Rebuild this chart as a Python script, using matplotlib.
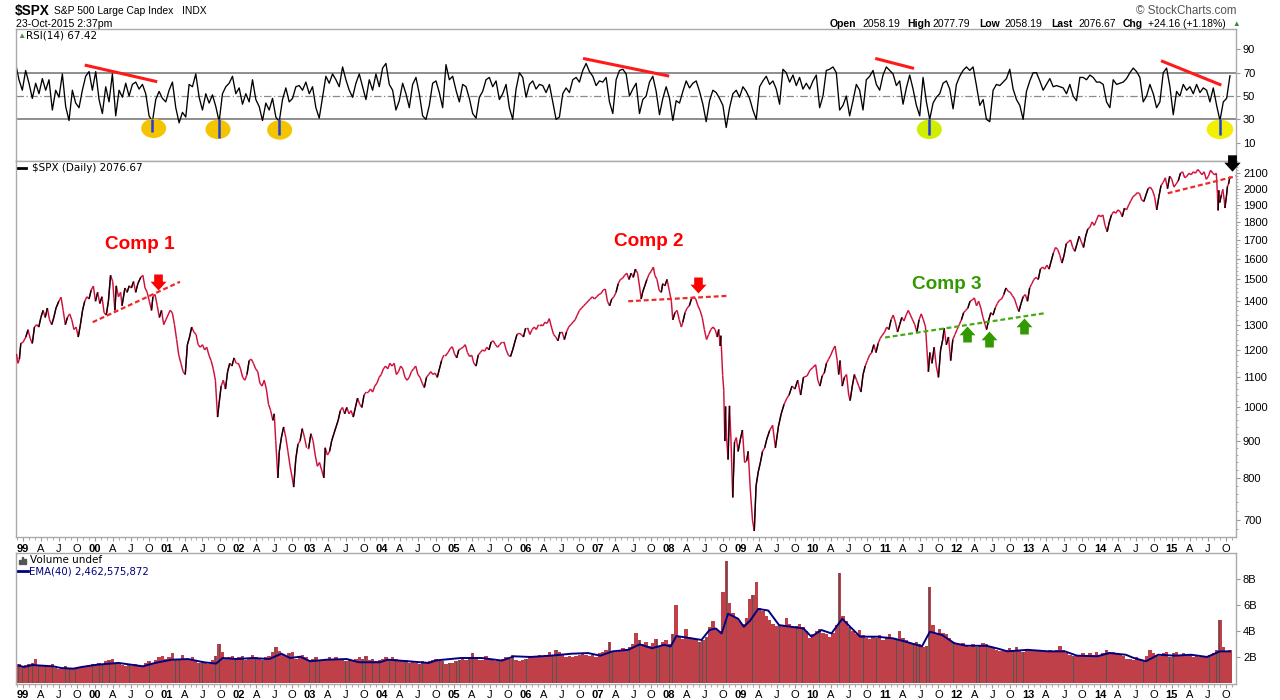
import numpy as np
import matplotlib
matplotlib.use("Agg")
import matplotlib.pyplot as plt
from matplotlib.collections import LineCollection
from matplotlib.path import Path
from matplotlib.patches import Ellipse, Rectangle
from matplotlib.lines import Line2D
import matplotlib.ticker as mticker

# ---------------------------------------------------------------- data
# $SPX daily close, sampled (decimal year, price)
spx_1998 = [(1998.91, 1185), (1998.93, 1150), (1998.95, 1165), (1998.97, 1225)]
spx_1999 = [(1999.00, 1229), (1999.04, 1250), (1999.07, 1279), (1999.10, 1245), (1999.13, 1225), (1999.16, 1290),
            (1999.19, 1300), (1999.22, 1290), (1999.25, 1330), (1999.28, 1360), (1999.31, 1330), (1999.34, 1370),
            (1999.37, 1320), (1999.40, 1300), (1999.43, 1330), (1999.46, 1370), (1999.50, 1400), (1999.53, 1418),
            (1999.56, 1360), (1999.59, 1300), (1999.62, 1330), (1999.65, 1345), (1999.68, 1320), (1999.71, 1280),
            (1999.74, 1290), (1999.77, 1250), (1999.80, 1300), (1999.83, 1360), (1999.86, 1400), (1999.89, 1420),
            (1999.92, 1410), (1999.95, 1450), (1999.98, 1469)]
spx_2000 = [(2000.01, 1400), (2000.04, 1440), (2000.07, 1390), (2000.10, 1420), (2000.13, 1350), (2000.16, 1340),
            (2000.19, 1400), (2000.22, 1520), (2000.25, 1490), (2000.28, 1360), (2000.30, 1470), (2000.33, 1420),
            (2000.36, 1440), (2000.38, 1380), (2000.42, 1460), (2000.45, 1440), (2000.48, 1470), (2000.51, 1460),
            (2000.54, 1490), (2000.57, 1440), (2000.60, 1480), (2000.64, 1510), (2000.67, 1520), (2000.70, 1460),
            (2000.73, 1440), (2000.76, 1400), (2000.79, 1360), (2000.81, 1420), (2000.84, 1430), (2000.87, 1380),
            (2000.90, 1330), (2000.93, 1360), (2000.96, 1300), (2000.99, 1320)]
spx_2001 = [(2001.02, 1340), (2001.05, 1360), (2001.08, 1350), (2001.11, 1300), (2001.14, 1240), (2001.17, 1180),
            (2001.20, 1150), (2001.23, 1120), (2001.26, 1110), (2001.29, 1220), (2001.32, 1250), (2001.35, 1290),
            (2001.38, 1270), (2001.41, 1260), (2001.44, 1220), (2001.47, 1210), (2001.50, 1220), (2001.53, 1200),
            (2001.56, 1210), (2001.59, 1180), (2001.62, 1160), (2001.65, 1130), (2001.68, 1090), (2001.71, 970),
            (2001.73, 1010), (2001.76, 1070), (2001.79, 1090), (2001.82, 1060), (2001.85, 1120), (2001.88, 1150),
            (2001.91, 1140), (2001.94, 1170), (2001.97, 1150)]
spx_2002 = [(2002.00, 1150), (2002.03, 1130), (2002.06, 1100), (2002.09, 1090), (2002.12, 1110), (2002.15, 1160),
            (2002.18, 1165), (2002.21, 1150), (2002.24, 1130), (2002.27, 1120), (2002.30, 1080), (2002.33, 1070),
            (2002.36, 1090), (2002.39, 1060), (2002.42, 1010), (2002.45, 990), (2002.48, 960), (2002.50, 980),
            (2002.52, 900), (2002.55, 800), (2002.57, 870), (2002.60, 910), (2002.63, 940), (2002.66, 910),
            (2002.69, 870), (2002.72, 830), (2002.75, 800), (2002.77, 777), (2002.80, 850), (2002.83, 890),
            (2002.86, 900), (2002.89, 935), (2002.92, 910), (2002.95, 880), (2002.98, 880)]
spx_2003 = [(2003.01, 920), (2003.04, 900), (2003.07, 860), (2003.10, 830), (2003.13, 840), (2003.16, 820),
            (2003.19, 800), (2003.21, 880), (2003.24, 860), (2003.27, 870), (2003.30, 900), (2003.33, 920),
            (2003.36, 940), (2003.39, 960), (2003.42, 990), (2003.45, 1000), (2003.48, 980), (2003.51, 1000),
            (2003.54, 980), (2003.57, 990), (2003.60, 970), (2003.63, 1000), (2003.66, 1030), (2003.69, 1010),
            (2003.72, 1000), (2003.75, 1040), (2003.78, 1050), (2003.81, 1050), (2003.84, 1060), (2003.87, 1050),
            (2003.90, 1070), (2003.93, 1080), (2003.96, 1100), (2003.99, 1110)]
spx_2004 = [(2004.02, 1130), (2004.05, 1140), (2004.08, 1130), (2004.11, 1150), (2004.14, 1140), (2004.17, 1150),
            (2004.20, 1110), (2004.23, 1120), (2004.26, 1140), (2004.29, 1130), (2004.32, 1100), (2004.35, 1090),
            (2004.38, 1100), (2004.41, 1120), (2004.44, 1130), (2004.47, 1140), (2004.50, 1110), (2004.53, 1100),
            (2004.56, 1080), (2004.59, 1065), (2004.62, 1100), (2004.65, 1110), (2004.68, 1120), (2004.71, 1110),
            (2004.74, 1115), (2004.77, 1100), (2004.80, 1130), (2004.83, 1160), (2004.86, 1180), (2004.89, 1180),
            (2004.92, 1190), (2004.95, 1205), (2004.98, 1212)]
spx_2005 = [(2005.01, 1185), (2005.04, 1170), (2005.07, 1200), (2005.10, 1205), (2005.13, 1210), (2005.16, 1220),
            (2005.19, 1190), (2005.22, 1175), (2005.25, 1180), (2005.28, 1150), (2005.31, 1140), (2005.34, 1180),
            (2005.37, 1190), (2005.40, 1200), (2005.43, 1195), (2005.46, 1210), (2005.49, 1200), (2005.52, 1230),
            (2005.55, 1235), (2005.58, 1220), (2005.61, 1210), (2005.64, 1220), (2005.67, 1230), (2005.70, 1230),
            (2005.73, 1200), (2005.76, 1180), (2005.79, 1175), (2005.82, 1200), (2005.85, 1230), (2005.88, 1260),
            (2005.91, 1265), (2005.94, 1260), (2005.97, 1250)]
spx_2006 = [(2006.00, 1285), (2006.03, 1285), (2006.06, 1260), (2006.09, 1280), (2006.12, 1290), (2006.15, 1280),
            (2006.18, 1300), (2006.21, 1300), (2006.24, 1295), (2006.27, 1310), (2006.30, 1305), (2006.33, 1325),
            (2006.36, 1290), (2006.39, 1260), (2006.42, 1250), (2006.45, 1235), (2006.48, 1270), (2006.51, 1270),
            (2006.54, 1240), (2006.57, 1270), (2006.60, 1290), (2006.63, 1300), (2006.66, 1310), (2006.69, 1320),
            (2006.72, 1340), (2006.75, 1360), (2006.78, 1370), (2006.81, 1380), (2006.84, 1390), (2006.87, 1400),
            (2006.90, 1410), (2006.93, 1420), (2006.96, 1410), (2006.99, 1420)]
spx_2007 = [(2007.02, 1430), (2007.05, 1435), (2007.08, 1450), (2007.11, 1455), (2007.14, 1400), (2007.17, 1380),
            (2007.20, 1410), (2007.23, 1420), (2007.26, 1440), (2007.29, 1480), (2007.32, 1500), (2007.35, 1505),
            (2007.38, 1520), (2007.41, 1530), (2007.44, 1500), (2007.47, 1530), (2007.50, 1510), (2007.53, 1550),
            (2007.56, 1530), (2007.59, 1460), (2007.61, 1410), (2007.63, 1440), (2007.66, 1470), (2007.69, 1500),
            (2007.72, 1525), (2007.75, 1540), (2007.78, 1560), (2007.80, 1520), (2007.83, 1500), (2007.86, 1450),
            (2007.89, 1440), (2007.91, 1480), (2007.94, 1470), (2007.97, 1500)]
spx_2008 = [(2008.00, 1450), (2008.03, 1400), (2008.05, 1320), (2008.08, 1350), (2008.11, 1360), (2008.14, 1320),
            (2008.17, 1290), (2008.19, 1310), (2008.22, 1350), (2008.25, 1370), (2008.28, 1380), (2008.31, 1410),
            (2008.34, 1420), (2008.37, 1410), (2008.40, 1380), (2008.43, 1360), (2008.46, 1330), (2008.49, 1280),
            (2008.52, 1240), (2008.55, 1260), (2008.58, 1280), (2008.61, 1290), (2008.64, 1280), (2008.67, 1250),
            (2008.69, 1280), (2008.71, 1215), (2008.72, 1255), (2008.745, 1106), (2008.76, 1056), (2008.775, 899),
            (2008.785, 1003), (2008.80, 908), (2008.82, 848), (2008.84, 1005), (2008.86, 905), (2008.885, 752),
            (2008.91, 896), (2008.935, 909), (2008.96, 870), (2008.99, 903)]
spx_2009 = [(2009.02, 931), (2009.05, 840), (2009.08, 845), (2009.10, 870), (2009.13, 770), (2009.16, 700),
            (2009.185, 676), (2009.21, 780), (2009.24, 815), (2009.27, 840), (2009.30, 870), (2009.33, 880),
            (2009.36, 905), (2009.40, 930), (2009.44, 945), (2009.48, 880), (2009.52, 940), (2009.56, 980),
            (2009.60, 1010), (2009.64, 1030), (2009.67, 1040), (2009.71, 1070), (2009.75, 1060), (2009.79, 1090),
            (2009.83, 1040), (2009.87, 1100), (2009.92, 1105), (2009.96, 1125)]
spx_2010 = [(2010.00, 1135), (2010.04, 1145), (2010.07, 1090), (2010.10, 1070), (2010.13, 1105), (2010.16, 1115),
            (2010.19, 1150), (2010.22, 1165), (2010.25, 1180), (2010.28, 1200), (2010.31, 1215), (2010.34, 1160),
            (2010.36, 1110), (2010.38, 1160), (2010.41, 1070), (2010.44, 1100), (2010.47, 1110), (2010.50, 1040),
            (2010.52, 1022), (2010.55, 1070), (2010.58, 1110), (2010.61, 1090), (2010.64, 1070), (2010.67, 1050),
            (2010.70, 1110), (2010.73, 1140), (2010.76, 1160), (2010.79, 1180), (2010.82, 1190), (2010.85, 1220),
            (2010.88, 1190), (2010.91, 1225), (2010.94, 1245), (2010.97, 1258)]
spx_2011 = [(2011.00, 1270), (2011.03, 1290), (2011.06, 1280), (2011.09, 1320), (2011.12, 1340), (2011.15, 1310),
            (2011.18, 1270), (2011.21, 1300), (2011.24, 1330), (2011.27, 1315), (2011.30, 1340), (2011.33, 1360),
            (2011.36, 1340), (2011.39, 1320), (2011.42, 1300), (2011.45, 1270), (2011.48, 1320), (2011.51, 1345),
            (2011.54, 1320), (2011.57, 1290), (2011.59, 1200), (2011.61, 1120), (2011.63, 1190), (2011.66, 1150),
            (2011.69, 1210), (2011.72, 1140), (2011.75, 1100), (2011.78, 1200), (2011.81, 1240), (2011.83, 1285),
            (2011.86, 1220), (2011.89, 1250), (2011.92, 1160), (2011.95, 1240), (2011.98, 1260)]
spx_2012 = [(2012.01, 1280), (2012.04, 1300), (2012.07, 1320), (2012.10, 1350), (2012.13, 1360), (2012.16, 1370),
            (2012.19, 1400), (2012.22, 1405), (2012.25, 1415), (2012.28, 1380), (2012.31, 1400), (2012.34, 1370),
            (2012.37, 1330), (2012.40, 1300), (2012.42, 1280), (2012.45, 1320), (2012.48, 1350), (2012.51, 1340),
            (2012.54, 1370), (2012.57, 1390), (2012.60, 1405), (2012.63, 1410), (2012.66, 1430), (2012.69, 1460),
            (2012.72, 1445), (2012.75, 1440), (2012.78, 1425), (2012.81, 1410), (2012.84, 1380), (2012.87, 1355),
            (2012.90, 1390), (2012.93, 1420), (2012.96, 1430), (2012.99, 1400)]
spx_2013 = [(2013.02, 1460), (2013.05, 1480), (2013.08, 1500), (2013.11, 1510), (2013.14, 1500), (2013.17, 1550),
            (2013.20, 1560), (2013.23, 1550), (2013.26, 1570), (2013.29, 1550), (2013.32, 1590), (2013.35, 1630),
            (2013.38, 1660), (2013.41, 1650), (2013.44, 1620), (2013.47, 1580), (2013.50, 1620), (2013.53, 1680),
            (2013.56, 1690), (2013.59, 1700), (2013.62, 1660), (2013.65, 1640), (2013.68, 1680), (2013.71, 1720),
            (2013.74, 1690), (2013.77, 1660), (2013.80, 1720), (2013.83, 1760), (2013.86, 1770), (2013.89, 1800),
            (2013.92, 1780), (2013.95, 1810), (2013.98, 1840)]
spx_2014 = [(2014.01, 1830), (2014.04, 1840), (2014.07, 1780), (2014.10, 1745), (2014.13, 1800), (2014.16, 1840),
            (2014.19, 1860), (2014.22, 1850), (2014.25, 1870), (2014.28, 1860), (2014.31, 1830), (2014.34, 1880),
            (2014.37, 1870), (2014.40, 1900), (2014.43, 1925), (2014.46, 1950), (2014.49, 1960), (2014.52, 1975),
            (2014.55, 1970), (2014.58, 1930), (2014.61, 1920), (2014.64, 1960), (2014.67, 2000), (2014.70, 2010),
            (2014.73, 1990), (2014.76, 1950), (2014.79, 1870), (2014.82, 1950), (2014.85, 2020), (2014.88, 2040),
            (2014.91, 2070), (2014.94, 2000), (2014.97, 2080)]
spx_2015 = [(2015.00, 2060), (2015.03, 2010), (2015.06, 2030), (2015.09, 2050), (2015.12, 2100), (2015.15, 2110),
            (2015.18, 2070), (2015.21, 2080), (2015.24, 2100), (2015.27, 2090), (2015.30, 2110), (2015.33, 2100),
            (2015.36, 2125), (2015.39, 2110), (2015.42, 2090), (2015.45, 2110), (2015.48, 2060), (2015.51, 2080),
            (2015.54, 2120), (2015.57, 2100), (2015.60, 2090), (2015.62, 2100), (2015.635, 1970), (2015.645, 1867),
            (2015.655, 1989), (2015.668, 1914), (2015.69, 1960), (2015.71, 1996), (2015.73, 1930), (2015.74, 1881),
            (2015.76, 1950), (2015.775, 2014), (2015.79, 2030), (2015.81, 2077)]

# RSI(14) readings, evenly spaced from START to END
SERIES_START, SERIES_END = 1998.898, 2015.81
rsi_part1 = [78, 64, 55, 72, 61, 48, 61, 52, 65, 55, 64, 38, 55, 49, 69, 41, 29, 55, 44, 40,
             55, 67, 71, 55, 71, 47, 35, 58, 45, 69, 33, 55, 49, 61, 50, 60, 62, 56, 60, 52,
             33, 28, 47, 54, 48, 45, 55, 62, 40, 27, 36, 32, 60, 58, 69, 49, 38, 52, 44, 51,
             41, 28, 52, 58, 61, 67, 52, 57, 43, 52, 45, 64, 47, 41, 29, 44, 38, 48, 32, 28,
             47, 57, 45, 48, 58, 59, 55, 62, 52, 58, 40, 31, 49, 67, 61, 69, 64, 58, 75, 64,
             55, 49, 61, 69, 58, 47, 64, 55, 69, 58, 74, 78, 60, 55, 38, 46, 61, 52, 40, 60,
             66, 52, 33]
rsi_part2 = [30, 42, 61, 63, 53, 40, 77, 64, 67, 55, 45, 60, 58, 48, 35, 31, 49, 54, 64, 66,
             58, 63, 47, 52, 60, 40, 30, 56, 70, 66, 49, 60, 63, 56, 60, 59, 53, 60, 45, 30,
             32, 52, 57, 53, 64, 66, 62, 72, 78, 71, 67, 59, 63, 62, 66, 45, 35, 64, 72, 73,
             69, 50, 56, 61, 35, 47, 50, 62, 67, 54, 34, 48, 58, 48, 29, 46, 44, 54, 63, 57,
             61, 63, 54, 43, 28, 46, 55, 53, 48, 42, 23, 40, 52, 55, 49, 58, 54, 48, 38, 30,
             58, 63, 67, 60, 63, 56, 43, 73, 70, 62, 68, 59, 66, 56, 61, 56, 63, 68, 40, 50,
             72]
rsi_part3 = [73, 75, 70, 38, 42, 50, 33, 46, 60, 55, 38, 64, 67, 72, 60, 55, 68, 75, 72, 69,
             59, 63, 43, 57, 68, 56, 42, 33, 66, 45, 30, 44, 49, 52, 61, 63, 56, 39, 60, 67,
             72, 75, 72, 75, 59, 42, 47, 30, 28, 55, 60, 59, 62, 65, 73, 56, 47, 42, 30, 54,
             63, 70, 70, 63, 55, 60, 65, 58, 59, 58, 57, 52, 60, 50, 46, 66, 66, 64, 68, 66,
             62, 62, 60, 45, 40, 64, 60, 61, 62, 65, 70, 74, 71, 66, 45, 50, 60, 52, 40, 45,
             70, 74, 58, 34, 54, 50, 60, 55, 58, 52, 60, 53, 57, 55, 45, 57, 42, 29, 45, 48,
             67.42]

# Volume (billions), same even spacing
vol_1998 = [1.4, 1.5, 1.3]
vol_1999 = [1.4, 1.5, 1.6, 1.9, 1.4, 1.3, 1.4, 1.3, 1.5, 1.2, 1.1, 1.2, 1.3, 1.2, 1.1, 1.2, 1.2, 1.3, 1.3, 1.4, 1.5]
vol_2000 = [1.5, 1.6, 1.5, 1.7, 1.8, 1.9, 1.6, 1.5, 1.4, 1.3, 1.4, 1.3, 1.5, 1.4, 1.3, 1.6, 1.7, 1.6, 1.8, 2.0, 2.1, 1.9]
vol_2001 = [2.0, 2.3, 1.9, 1.8, 2.2, 1.9, 1.8, 2.0, 1.7, 1.6, 1.7, 1.6, 1.5, 1.8, 2.1, 3.0, 2.4, 1.9, 2.0, 2.1, 1.9]
vol_2002 = [2.0, 2.1, 1.8, 1.9, 2.2, 2.0, 1.9, 1.8, 2.0, 2.1, 2.4, 2.8, 2.5, 2.2, 2.1, 2.3, 2.4, 1.9, 2.0, 2.2, 2.0, 1.8]
vol_2003 = [1.9, 2.0, 1.7, 1.8, 1.9, 2.0, 1.8, 2.0, 1.9, 1.8, 1.7, 1.9, 1.8, 1.9, 2.0, 1.9, 2.1, 1.8, 1.9, 1.7, 1.8]
vol_2004 = [1.9, 2.0, 1.8, 2.0, 1.9, 1.8, 1.7, 1.8, 1.6, 1.7, 1.6, 1.5, 1.7, 1.6, 1.7, 1.8, 1.9, 1.8, 1.7, 1.5, 1.6, 1.6]
vol_2005 = [1.7, 1.8, 1.9, 1.8, 2.0, 2.3, 1.9, 1.8, 1.8, 2.1, 1.9, 1.9, 1.7, 1.8, 1.9, 2.0, 1.9, 2.2, 1.8, 1.7, 1.8, 1.9]
vol_2006 = [2.0, 2.1, 2.0, 2.2, 2.1, 2.2, 2.4, 2.1, 2.6, 2.4, 2.2, 2.0, 2.1, 2.0, 2.1, 2.2, 2.3, 2.2, 2.1, 2.2, 2.0]
vol_2007 = [2.3, 2.4, 2.6, 3.2, 2.5, 2.4, 2.5, 2.7, 2.6, 2.8, 3.0, 3.9, 3.3, 3.0, 3.2, 2.9, 3.1, 3.4, 2.8, 3.2, 3.3, 3.0]
vol_2008 = [3.8, 6.0, 3.6, 3.4, 4.2, 3.6, 3.4, 3.3, 3.2, 3.3, 3.6, 4.3, 4.8, 4.2, 4.0, 7.0, 9.4, 6.2, 5.4, 5.0, 4.8]
vol_2009 = [4.6, 5.0, 6.5, 6.8, 7.8, 5.8, 5.6, 5.2, 4.9, 4.6, 4.4, 4.5, 4.4, 5.0, 4.6, 4.3, 4.4, 4.6, 4.3, 4.0, 3.5, 3.8]
vol_2010 = [4.0, 4.2, 3.9, 3.8, 3.6, 3.9, 4.5, 8.5, 5.2, 4.8, 4.3, 4.0, 3.8, 4.1, 3.7, 3.5, 3.4, 3.6, 3.5, 3.7, 3.3]
vol_2011 = [3.6, 3.8, 3.5, 3.4, 4.0, 3.5, 3.3, 3.2, 3.1, 3.2, 3.0, 2.8, 2.9, 7.4, 4.5, 3.8, 4.2, 3.9, 3.8, 3.5, 3.2, 3.0]
vol_2012 = [3.0, 3.1, 2.9, 2.8, 3.0, 2.8, 2.9, 3.1, 3.0, 2.8, 2.7, 2.6, 2.5, 2.5, 2.6, 2.7, 2.6, 2.8, 2.5, 2.4, 2.6]
vol_2013 = [2.6, 2.5, 2.5, 2.6, 2.4, 2.5, 2.6, 2.4, 2.6, 2.9, 2.6, 2.3, 2.2, 2.1, 2.2, 2.1, 2.3, 2.2, 2.3, 2.2, 2.4, 2.1]
vol_2014 = [2.3, 2.6, 2.4, 2.4, 2.3, 2.2, 2.1, 1.9, 1.9, 1.8, 2.0, 1.9, 1.8, 2.1, 2.6, 2.3, 2.2, 2.1, 2.3, 2.4, 2.0]
vol_2015 = [2.3, 2.4, 2.2, 2.3, 2.1, 2.2, 2.0, 2.1, 2.0, 2.1, 2.0, 2.2, 2.3, 2.6, 4.9, 2.8, 2.5, 2.6]

# EMA(40) of volume (decimal year, billions)
ema_1999_2003 = [(1998.94, 1.36), (1999.02, 1.26), (1999.13, 1.41), (1999.42, 1.31), (1999.53, 1.18), (1999.70, 1.13),
                 (1999.82, 1.26), (2000.04, 1.44), (2000.33, 1.57), (2000.50, 1.44), (2000.67, 1.31), (2000.84, 1.57),
                 (2001.07, 1.82), (2001.30, 1.87), (2001.52, 1.62), (2001.69, 1.52), (2001.78, 1.95), (2001.98, 1.87),
                 (2002.20, 1.95), (2002.43, 1.87), (2002.60, 2.28), (2002.72, 1.95), (2002.86, 2.05), (2003.00, 1.70),
                 (2003.23, 1.82), (2003.51, 1.87), (2003.68, 1.62), (2003.97, 1.62)]
ema_2004_2008 = [(2004.08, 1.82), (2004.36, 1.70), (2004.65, 1.57), (2004.76, 1.77), (2005.10, 1.95), (2005.39, 1.95),
                 (2005.67, 1.75), (2005.84, 2.08), (2006.07, 2.03), (2006.35, 2.13), (2006.64, 2.28), (2006.87, 2.33),
                 (2007.04, 2.13), (2007.21, 2.46), (2007.43, 2.58), (2007.59, 3.00), (2007.76, 2.70), (2007.93, 2.96),
                 (2008.02, 2.84), (2008.10, 3.64), (2008.22, 3.54), (2008.45, 3.34), (2008.56, 4.10), (2008.65, 4.22),
                 (2008.73, 3.84), (2008.82, 5.35), (2008.96, 4.97)]
ema_2009_2015 = [(2009.04, 4.35), (2009.13, 4.85), (2009.24, 5.73), (2009.38, 5.60), (2009.53, 4.48), (2009.70, 4.35),
                 (2009.87, 4.22), (2009.98, 3.59), (2010.12, 4.10), (2010.26, 3.84), (2010.41, 4.97), (2010.52, 4.35),
                 (2010.66, 3.59), (2010.89, 3.59), (2011.12, 3.46), (2011.29, 3.21), (2011.52, 2.84), (2011.63, 3.97),
                 (2011.80, 3.72), (2011.97, 3.09), (2012.14, 2.89), (2012.42, 2.89), (2012.60, 2.64), (2012.71, 2.46),
                 (2012.99, 2.58), (2013.28, 2.46), (2013.51, 2.46), (2013.68, 2.13), (2013.96, 2.08), (2014.13, 2.33),
                 (2014.36, 2.20), (2014.47, 1.95), (2014.64, 1.70), (2014.81, 2.20), (2015.04, 2.13), (2015.27, 2.20),
                 (2015.49, 2.03), (2015.67, 2.46), (2015.81, 2.46)]

# Annotations (data coordinates)
comp_labels = ["Comp 1", "Comp 2", "Comp 3"]
comp_label_pos = [(2000.63, 1673), (2007.72, 1690), (2011.87, 1474)]
trend_red = [((1999.971, 1310), (2001.187, 1489)), ((2007.430, 1400), (2008.809, 1424)),
             ((2014.943, 1971), (2015.907, 2082))]
trend_green = [((2011.006, 1248), (2013.234, 1348))]
down_arrows_red = [(2000.876, 1490), (2008.397, 1472)]
up_arrows_green = [(2012.143, 1262), (2012.454, 1244), (2012.942, 1294)]
down_arrow_black = [(2015.838, 2170)]
rsi_div_lines = [((1999.86, 76.6), (2000.87, 62.3)), ((2006.80, 82.3), (2008.00, 67.1)),
                 ((2010.87, 82.3), (2011.41, 73.7)), ((2014.85, 80.3), (2015.69, 59.4))]
rsi_circles = [(2000.82, 22.3, 0.348, '#f5c400'), (2001.716, 21.4, 0.348, '#f5c400'),
               (2002.575, 20.9, 0.348, '#f5c400'), (2011.623, 21.4, 0.348, '#d2ee00'),
               (2015.671, 21.4, 0.371, '#f0f000')]
rsi_blue_dips = [(2000.80, 19.4), (2001.73, 13.7), (2002.57, 16.6), (2011.62, 16.6), (2015.67, 16.6)]

price_ticks = [700, 800, 900, 1000, 1100, 1200, 1300, 1400, 1500, 1600, 1700, 1800, 1900, 2000, 2100]
rsi_ticks = [10, 30, 50, 70, 90]
vol_ticks = [2, 4, 6, 8]
vol_tick_labels = ["2B", "4B", "6B", "8B"]

# ---------------------------------------------------------------- figure
plt.rcParams['font.family'] = ['Liberation Sans', 'DejaVu Sans']

W, H = 1280, 700
fig = plt.figure(figsize=(W / 100, H / 100), dpi=100)
fig.patch.set_facecolor('white')


def fx(x):
    return x / W


def fy(y):
    return 1 - y / H


L, R = 16, 1236
ax_rsi = fig.add_axes([fx(L), fy(161.3), (R - L) / W, (161.3 - 29.3) / H])
ax_px = fig.add_axes([fx(L), fy(537.3), (R - L) / W, (537.3 - 161.3) / H])
ax_vol = fig.add_axes([fx(L), fy(684), (R - L) / W, (684 - 552.7) / H])

XMIN, XMAX = 1998.903, 2015.894
SPINE = '#aaaaaa'
TICKC = '#999999'
for ax in (ax_rsi, ax_px, ax_vol):
    ax.set_xlim(XMIN, XMAX)
    for s in ax.spines.values():
        s.set_color(SPINE)
        s.set_linewidth(1.0)
    ax.set_facecolor('white')
    ax.yaxis.tick_right()
    ax.tick_params(axis='y', which='major', length=3, width=0.8, color=TICKC, pad=2,
                   labelsize=8, labelcolor='black')
    ax.tick_params(axis='y', which='minor', length=1.5, width=0.6, color=TICKC)

# x ticks
quarter_pos, quarter_lab, quarter_bold = [], [], []
for yr in range(1999, 2016):
    for m, lab in zip([1, 4, 7, 10], [None, 'A', 'J', 'O']):
        pos = yr + (m - 1) / 12
        if XMIN <= pos <= XMAX:
            quarter_pos.append(pos)
            quarter_lab.append(f"{yr % 100:02d}" if lab is None else lab)
            quarter_bold.append(lab is None)
month_pos = [yr + (m - 1) / 12 for yr in range(1998, 2016) for m in range(1, 13)
             if XMIN <= yr + (m - 1) / 12 <= XMAX]

for ax in (ax_px, ax_vol):
    ax.set_xticks(quarter_pos)
    ax.set_xticklabels(quarter_lab)
    ax.set_xticks(month_pos, minor=True)
    ax.tick_params(axis='x', which='major', length=3, width=0.8, color=TICKC, pad=1.5,
                   labelsize=8, labelcolor='black')
    ax.tick_params(axis='x', which='minor', length=2, width=0.6, color=TICKC)
    for t, b in zip(ax.get_xticklabels(), quarter_bold):
        if b:
            t.set_fontweight('bold')
ax_rsi.set_xticks([])

# ---------------- RSI panel
rsi_vals = np.array(rsi_part1 + rsi_part2 + rsi_part3, dtype=float)
rsi_dates = np.linspace(SERIES_START, SERIES_END, len(rsi_vals))
ax_rsi.set_ylim(-6.0, 107.3)
ax_rsi.set_yticks(rsi_ticks)
ax_rsi.axhline(70, color='#7a7a7a', lw=1.2, zorder=1)
ax_rsi.axhline(30, color='#7a7a7a', lw=1.2, zorder=1)
ax_rsi.axhline(50, color='#8a8a8a', lw=0.9, ls=(0, (6, 2, 1, 2)), zorder=1)
ax_rsi.plot(rsi_dates, rsi_vals, color='black', lw=0.95, zorder=2)
for (d, v, w, c) in rsi_circles:
    ax_rsi.add_patch(Ellipse((d, v), width=w, height=16.6, facecolor=c, edgecolor='none', zorder=3))
for (d, low) in rsi_blue_dips:
    ax_rsi.plot([d, d], [30, low], color='#1f3ee0', lw=1.8, zorder=4, solid_capstyle='butt')
for (p0, p1) in rsi_div_lines:
    ax_rsi.plot([p0[0], p1[0]], [p0[1], p1[1]], color='#ff1a1a', lw=2.2, zorder=5,
                solid_capstyle='butt')

# ---------------- Price panel
spx_pts = np.array(spx_1998 + spx_1999 + spx_2000 + spx_2001 + spx_2002 + spx_2003 + spx_2004 +
                   spx_2005 + spx_2006 + spx_2007 + spx_2008 + spx_2009 + spx_2010 + spx_2011 +
                   spx_2012 + spx_2013 + spx_2014 + spx_2015, dtype=float)
ax_px.set_yscale('log')
ax_px.set_ylim(662.7, 2181)
segs = np.stack([spx_pts[:-1], spx_pts[1:]], axis=1)
rel = spx_pts[1:, 1] / spx_pts[:-1, 1] - 1.0
strong_up = rel > 0.02
ax_px.add_collection(LineCollection(segs, colors='#d0103c', linewidths=1.05, zorder=3))
ax_px.add_collection(LineCollection(segs[strong_up], colors='black', linewidths=0.95, zorder=4))
ax_px.yaxis.set_major_locator(mticker.FixedLocator(price_ticks))
ax_px.yaxis.set_major_formatter(mticker.FixedFormatter([str(v) for v in price_ticks]))
ax_px.yaxis.set_minor_locator(mticker.FixedLocator(list(range(680, 2181, 20))))
ax_px.yaxis.set_minor_formatter(mticker.NullFormatter())

for (p0, p1) in trend_red:
    ax_px.plot([p0[0], p1[0]], [p0[1], p1[1]], color='#f02828', lw=1.6,
               ls=(0, (2.2, 1.3)), zorder=5)
for (p0, p1) in trend_green:
    ax_px.plot([p0[0], p1[0]], [p0[1], p1[1]], color='#44aa11', lw=1.6,
               ls=(0, (2.2, 1.3)), zorder=5)

down_path = Path([(-0.27, 0.5), (0.27, 0.5), (0.27, 0.05), (0.5, 0.05), (0.0, -0.5),
                  (-0.5, 0.05), (-0.27, 0.05), (-0.27, 0.5)], closed=True)
up_path = Path([(-0.27, -0.5), (0.27, -0.5), (0.27, -0.05), (0.5, -0.05), (0.0, 0.5),
                (-0.5, -0.05), (-0.27, -0.05), (-0.27, -0.5)], closed=True)
for (d, p) in down_arrows_red:
    ax_px.plot([d], [p], marker=down_path, markersize=11.5, color='#ff0000',
               markeredgewidth=0, zorder=6)
for (d, p) in up_arrows_green:
    ax_px.plot([d], [p], marker=up_path, markersize=11.5, color='#339900',
               markeredgewidth=0, zorder=6)
for (d, p) in down_arrow_black:
    ax_px.plot([d], [p], marker=down_path, markersize=11.8, color='black',
               markeredgewidth=0, zorder=7, clip_on=False)

comp_colors = ['#ff0000', '#ff0000', '#339900']
for lab, (d, p), c in zip(comp_labels, comp_label_pos, comp_colors):
    ax_px.text(d, p, lab, color=c, fontsize=13.7, fontweight='bold', ha='center', va='center',
               zorder=8)

# ---------------- Volume panel
vol_vals = np.array(vol_1998 + vol_1999 + vol_2000 + vol_2001 + vol_2002 + vol_2003 + vol_2004 +
                    vol_2005 + vol_2006 + vol_2007 + vol_2008 + vol_2009 + vol_2010 + vol_2011 +
                    vol_2012 + vol_2013 + vol_2014 + vol_2015, dtype=float)
vol_dates = np.linspace(SERIES_START, SERIES_END, len(vol_vals))
step = vol_dates[1] - vol_dates[0]
ax_vol.set_ylim(-0.05, 10.05)
ax_vol.bar(vol_dates, vol_vals, width=step * 1.02, color='#c0404a', linewidth=0, zorder=2)
# down-day stripes (where the RSI fell noticeably)
n = min(len(vol_vals), len(rsi_vals))
drop = np.zeros(n, dtype=bool)
drop[1:] = (rsi_vals[1:n] - rsi_vals[:n - 1]) < -8
ax_vol.bar(vol_dates[:n][drop], vol_vals[:n][drop], width=step * 0.3, color='#555555',
           linewidth=0, zorder=3)
ema_pts = np.array(ema_1999_2003 + ema_2004_2008 + ema_2009_2015, dtype=float)
ax_vol.plot(ema_pts[:, 0], ema_pts[:, 1], color='#000080', lw=1.4, zorder=4)
ax_vol.set_yticks(vol_ticks)
ax_vol.set_yticklabels(vol_tick_labels)

# ---------------- header and panel labels
fig.text(fx(15), fy(11), "$SPX", fontsize=9.8, fontweight='bold', ha='left', va='center')
fig.text(fx(54), fy(11.5), "S&P 500 Large Cap Index", fontsize=7.4, ha='left', va='center')
fig.text(fx(182), fy(11.5), "INDX", fontsize=7.4, ha='left', va='center')
fig.text(fx(16), fy(24), "23-Oct-2015 2:37pm", fontsize=7.6, ha='left', va='center')
fig.text(fx(1236), fy(11.5), "\u00a9 StockCharts.com", fontsize=8.4, color='#555555',
         ha='right', va='center')

hdr = [("Open", 830, True), ("2058.19", 862, False), ("High", 907, True), ("2077.79", 932, False),
       ("Low", 979, True), ("2058.19", 1004.5, False), ("Last", 1051, True), ("2076.67", 1078, False),
       ("Chg", 1123, True), ("+24.16 (+1.18%)", 1147.5, False)]
for txt, x, b in hdr:
    fig.text(fx(x), fy(24), txt, fontsize=7.5, fontweight='bold' if b else 'normal',
             ha='left', va='center')
fig.text(fx(1232), fy(24), "\u25b2", fontsize=5.5, color='#2e8b2e', ha='left', va='center')

# RSI label with small icon
fig.text(fx(17), fy(36), "\u25b2", fontsize=6, color='#4f8a4f', ha='left', va='center')
fig.text(fx(25.5), fy(36), "RSI(14) 67.42", fontsize=7.5, family='DejaVu Sans',
         ha='left', va='center')

# Price label
fig.add_artist(Line2D([fx(18), fx(26)], [fy(168), fy(168)], color='black', lw=2.0))
fig.text(fx(31.5), fy(168), "$SPX (Daily) 2076.67", fontsize=7.5, family='DejaVu Sans',
         ha='left', va='center')

# Volume labels
for i, hgt in enumerate([4, 7, 5]):
    fig.add_artist(Rectangle((fx(19 + i * 2.6), fy(564)), 1.8 / W, hgt / H, color='#555555',
                             transform=fig.transFigure))
fig.text(fx(29.5), fy(560), "Volume undef", fontsize=7.5, family='DejaVu Sans',
         ha='left', va='center')
fig.add_artist(Line2D([fx(18), fx(28)], [fy(571), fy(571)], color='#000080', lw=2.0))
fig.text(fx(29), fy(571), "EMA(40) 2,462,575,872", fontsize=7.3, family='DejaVu Sans',
         color='#000080', ha='left', va='center')

fig.savefig("out.png", dpi=100, facecolor='white')
